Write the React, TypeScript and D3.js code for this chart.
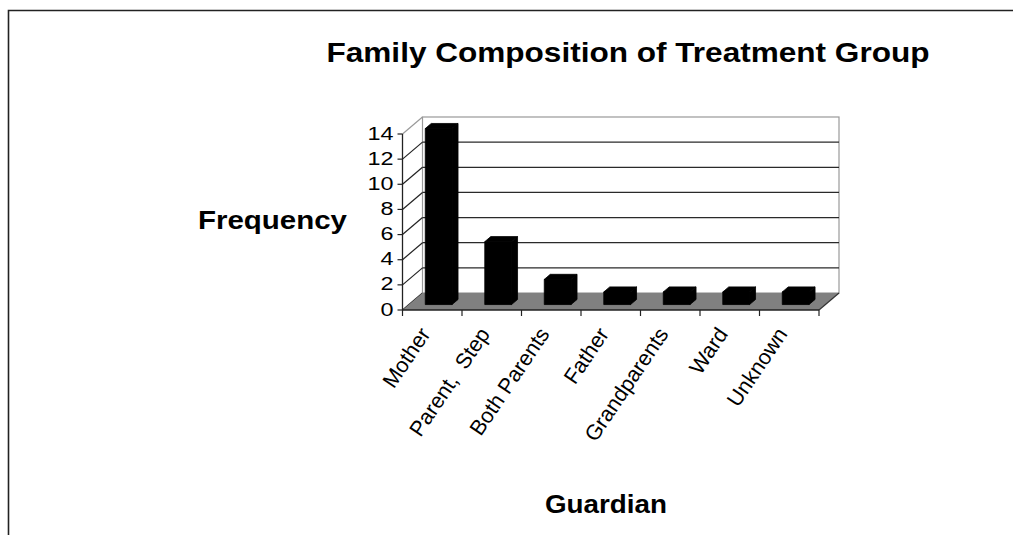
import React from "react";
import * as d3 from "d3";

const categories = ["Mother", "Parent,  Step", "Both Parents", "Father", "Grandparents", "Ward", "Unknown"];
const frequencies = [14, 5, 2, 1, 1, 1, 1];
const yTicks = [0, 2, 4, 6, 8, 10, 12, 14];

const titleText = "Family Composition of Treatment Group";
const yTitle = "Frequency";
const xTitle = "Guardian";

const W = 1013;
const H = 535;

// plot frame (front plane) and 3-D depth offset
const left = 402.5;
const right = 819;
const bottom = 310;
const top = 134;
const depthX = 20;
const depthY = -17;
const FONT = "'Liberation Sans', Arial, Helvetica, sans-serif";

export default function App() {
  const x = d3.scaleBand<string>().domain(categories).range([left, right]).padding(0);
  const y = d3.scaleLinear().domain([0, 14]).range([bottom, top]);

  const bw = x.bandwidth() * 0.45;
  const z0 = 0.32;
  const z1 = 0.62;

  const pts = (arr: [number, number][]) => arr.map((p) => p.join(",")).join(" ");

  const floor: [number, number][] = [
    [left, bottom],
    [right, bottom],
    [right + depthX, bottom + depthY],
    [left + depthX, bottom + depthY],
  ];

  return (
    <svg
      width={W}
      height={H}
      style={{ position: "absolute", left: 0, top: 0, background: "#fff" }}
      fontFamily={FONT}
    >
      <rect x={0} y={0} width={W} height={H} fill="#fff" />
      {/* chart area border */}
      <path d={`M8.5,${H} L8.5,10.5 L${W},10.5`} fill="none" stroke="#222" strokeWidth={1.6} />

      {/* title */}
      <text x={628} y={62} textAnchor="middle" fontSize={27} fontWeight="bold" textLength={603} lengthAdjust="spacingAndGlyphs">
        {titleText}
      </text>

      {/* back wall */}
      <rect
        x={left + depthX}
        y={top + depthY}
        width={right - left}
        height={bottom - top}
        fill="#fff"
        stroke="#999"
        strokeWidth={1.2}
      />
      {/* gridlines on back wall and side wall */}
      {yTicks.map((t) => (
        <g key={t}>
          {t > 0 && t < 14 && (
            <line
              x1={left + depthX}
              x2={right + depthX}
              y1={y(t) + depthY}
              y2={y(t) + depthY}
              stroke="#2a2a2a"
              strokeWidth={1.3}
            />
          )}
          <line
            x1={left}
            y1={y(t)}
            x2={left + depthX}
            y2={y(t) + depthY}
            stroke={t === 14 ? "#999" : "#222"}
            strokeWidth={1.2}
          />
        </g>
      ))}

      {/* floor */}
      <polygon points={pts(floor)} fill="#808080" stroke="none" />
      <line x1={right} y1={bottom} x2={right + depthX} y2={bottom + depthY} stroke="#333" strokeWidth={1.2} />

      {/* bars */}
      {categories.map((c, i) => {
        const cx = (x(c) as number) + x.bandwidth() / 2;
        const fx0 = cx - bw / 2 + depthX * z0;
        const fx1 = fx0 + bw;
        const fyb = y(0) + depthY * z0;
        const fyt = y(frequencies[i]) + depthY * z0;
        const ddx = depthX * (z1 - z0);
        const ddy = depthY * (z1 - z0);
        return (
          <g key={c} fill="#000" stroke="#000" strokeWidth={0.8} strokeLinejoin="round">
            <polygon points={pts([[fx1, fyb], [fx1 + ddx, fyb + ddy], [fx1 + ddx, fyt + ddy], [fx1, fyt]])} />
            <polygon points={pts([[fx0, fyt], [fx1, fyt], [fx1 + ddx, fyt + ddy], [fx0 + ddx, fyt + ddy]])} />
            <rect x={fx0} y={fyt} width={bw} height={fyb - fyt} />
          </g>
        );
      })}

      {/* value axis */}
      <line x1={left} x2={left} y1={top} y2={bottom} stroke="#222" strokeWidth={1.3} />
      {yTicks.map((t) => (
        <g key={"t" + t}>
          <line x1={left - 5} x2={left} y1={y(t)} y2={y(t)} stroke="#222" strokeWidth={1.2} />
          <text
            transform={`translate(${left - 9},${y(t) + 5.5}) scale(1.3,1)`}
            textAnchor="end"
            fontSize={18}
          >
            {t}
          </text>
        </g>
      ))}

      {/* category axis */}
      <line x1={left} x2={right} y1={bottom} y2={bottom} stroke="#222" strokeWidth={1.6} />
      {[...categories.map((c) => x(c) as number), right].map((bx, i) => (
        <line key={"b" + i} x1={bx} x2={bx} y1={bottom} y2={bottom + 6} stroke="#222" strokeWidth={1.2} />
      ))}
      {categories.map((c) => {
        const cx = (x(c) as number) + x.bandwidth() / 2;
        return (
          <text
            key={"l" + c}
            transform={`translate(${cx - 1},${bottom + 24}) rotate(-56)`}
            textAnchor="end"
            fontSize={21.5}
            style={{ whiteSpace: "pre" }}
          >
            {c}
          </text>
        );
      })}

      {/* axis titles */}
      <text x={198} y={229} fontSize={25} fontWeight="bold" textLength={149} lengthAdjust="spacingAndGlyphs">
        {yTitle}
      </text>
      <text x={545} y={513} fontSize={26} fontWeight="bold" textLength={122} lengthAdjust="spacingAndGlyphs">
        {xTitle}
      </text>
    </svg>
  );
}
